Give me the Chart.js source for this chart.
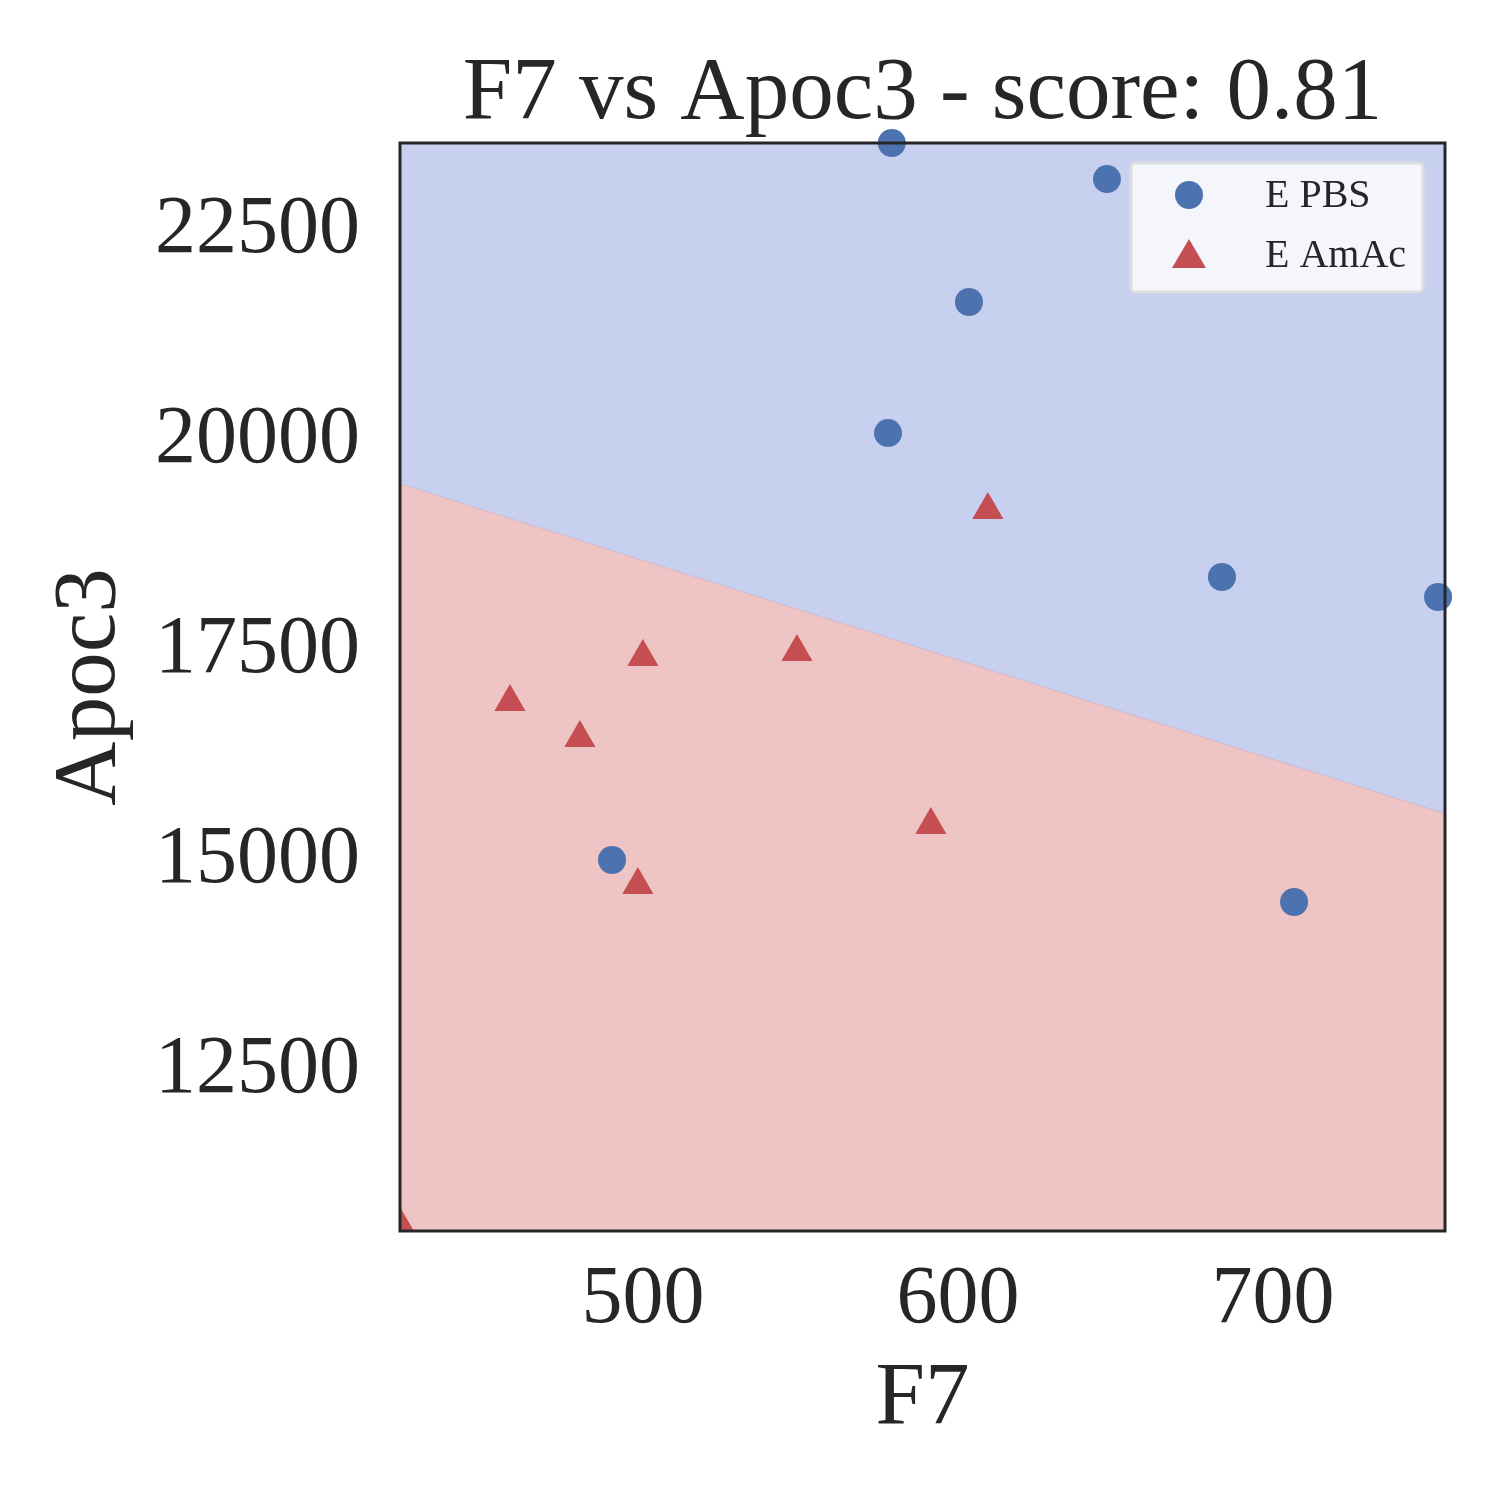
<!DOCTYPE html>
<html><head><meta charset="utf-8">
<script src="https://cdn.jsdelivr.net/npm/chart.js@4"></script>
<style>body{margin:0;background:#fff}#w{width:1500px;height:1500px}</style>
</head><body><div id="w"><canvas id="c"></canvas></div>
<script>
const titleText = "F7 vs Apoc3 - score: 0.81";
const xTicks = [500, 600, 700];
const yTicks = [12500, 15000, 17500, 20000, 22500];
const xRange = [422.9, 754.6];
const yRange = [10583, 23536];
const pbsX = [579.0, 647.3, 603.5, 577.8, 683.8, 752.4, 490.2, 706.7];
const pbsY = [23536, 23107, 21643, 20083, 18369, 18131, 15000, 14500];
const amacX = [609.5, 500.0, 548.9, 457.8, 480.0, 591.4, 498.4, 422.9];
const amacY = [19167, 17417, 17476, 16881, 16452, 15417, 14702, 10655];
const boundaryX = [422.9, 754.6];
const boundaryY = [19476, 15548];
const seriesNames = ["E PBS", "E AmAc"];

const FONT = "'Liberation Serif', 'Times New Roman', serif";
const toPts = (xs, ys) => xs.map((x, i) => ({x, y: ys[i]}));
const boundary = toPts(boundaryX, boundaryY);

const deco = {
  id: 'deco',
  afterDraw(chart) {
    const {ctx, chartArea: a} = chart;
    ctx.save();
    ctx.strokeStyle = '#262626'; ctx.lineWidth = 3;
    ctx.strokeRect(a.left, a.top, a.right - a.left, a.bottom - a.top);
    ctx.fillStyle = '#262626'; ctx.textAlign = 'center'; ctx.textBaseline = 'alphabetic';
    ctx.font = `89px ${FONT}`;
    ctx.fillText(titleText, (a.left + a.right) / 2, 118);
    const lx = 1131, ly = 163, lw = 292, lh = 129;
    ctx.fillStyle = 'rgba(255,255,255,0.8)';
    ctx.strokeStyle = '#dddddd'; ctx.lineWidth = 3;
    ctx.beginPath(); ctx.roundRect(lx, ly, lw, lh, 4); ctx.fill(); ctx.stroke();
    ctx.fillStyle = '#4c72b0';
    ctx.beginPath(); ctx.arc(1189, 195, 14, 0, Math.PI * 2); ctx.fill();
    ctx.fillStyle = '#c44e52';
    ctx.beginPath(); ctx.moveTo(1189, 239); ctx.lineTo(1206, 268); ctx.lineTo(1172, 268); ctx.closePath(); ctx.fill();
    ctx.fillStyle = '#262626'; ctx.textAlign = 'left'; ctx.font = `40px ${FONT}`;
    ctx.textBaseline = 'middle';
    ctx.fillText(seriesNames[0], 1265, 196);
    ctx.fillText(seriesNames[1], 1265, 256);
    ctx.restore();
  }
};

new Chart(document.getElementById('c'), {
  type: 'scatter',
  data: { datasets: [
    { type: 'line', data: boundary, borderColor: 'rgba(200,130,150,0.6)', borderWidth: 1, pointRadius: 0, fill: 'end', backgroundColor: '#c8d0f0', order: 5 },
    { type: 'line', data: boundary, borderWidth: 0, pointRadius: 0, fill: 'start', backgroundColor: '#eec4c4', order: 4 },
    { label: seriesNames[0], data: toPts(pbsX, pbsY), backgroundColor: '#4c72b0', borderWidth: 0, pointRadius: 14, pointStyle: 'circle', order: 1, clip: false },
    { label: seriesNames[1], data: toPts(amacX, amacY), backgroundColor: '#c44e52', borderWidth: 0, pointRadius: 18, pointStyle: 'triangle', order: 1 }
  ]},
  options: {
    responsive: true, maintainAspectRatio: false, animation: false,
    layout: { padding: { top: 143, right: 55, left: 0, bottom: 0 } },
    plugins: { legend: { display: false }, tooltip: { enabled: false } },
    scales: {
      x: { type: 'linear', min: xRange[0], max: xRange[1],
        afterBuildTicks: s => { s.ticks = xTicks.map(v => ({value: v})); },
        afterFit: s => { s.height = 269; },
        grid: { display: false, drawTicks: false }, border: { display: false },
        ticks: { color: '#262626', font: { family: FONT, size: 82 }, padding: 20, maxRotation: 0, callback: v => String(v) },
        title: { display: true, text: 'F7', color: '#262626', font: { family: FONT, size: 89 }, padding: { top: 0, bottom: 47 } } },
      y: { type: 'linear', min: yRange[0], max: yRange[1],
        afterBuildTicks: s => { s.ticks = yTicks.map(v => ({value: v})); },
        afterFit: s => { s.width = 400; },
        grid: { display: false, drawTicks: false }, border: { display: false },
        ticks: { color: '#262626', font: { family: FONT, size: 82 }, padding: 40, callback: v => String(v) },
        title: { display: true, text: 'Apoc3', color: '#262626', font: { family: FONT, size: 89 }, padding: { top: 37, bottom: 0 } } }
    }
  },
  plugins: [deco]
});
</script></body></html>
